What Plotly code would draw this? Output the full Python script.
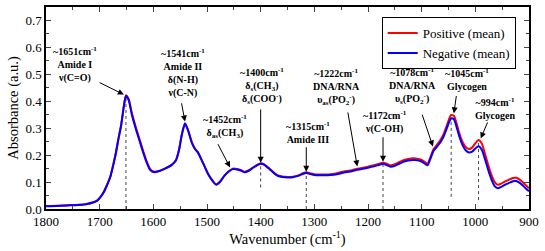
import plotly.graph_objects as go

wavenumber = [1800, 1780, 1760, 1740, 1725, 1712, 1705, 1700, 1693, 1686, 1680, 1675, 1670, 1665, 1660, 1655,
              1651, 1646, 1640, 1633, 1626, 1619, 1612, 1606, 1600, 1590, 1578, 1566, 1558, 1552, 1547, 1541,
              1535, 1528, 1522, 1517, 1512, 1505, 1498, 1490, 1483, 1476, 1468, 1460, 1452, 1444, 1436, 1430,
              1422, 1414, 1406, 1400, 1394, 1386, 1378, 1370, 1360, 1350, 1340, 1330, 1322, 1315, 1308, 1300,
              1290, 1280, 1270, 1260, 1250, 1240, 1230, 1222, 1212, 1200, 1190, 1180, 1172, 1165, 1158, 1150,
              1142, 1134, 1125, 1116, 1108, 1100, 1094, 1089, 1084, 1078, 1072, 1066, 1060, 1054, 1049, 1045,
              1040, 1035, 1030, 1024, 1018, 1012, 1006, 1000, 994, 988, 982, 976, 970, 964, 958, 952, 945, 938,
              930, 924, 918, 912, 906, 900]

negative_mean = [0.010, 0.011, 0.013, 0.015, 0.018, 0.024, 0.030, 0.040, 0.060, 0.090, 0.120, 0.160, 0.205, 0.260,
                 0.310, 0.380, 0.420, 0.405, 0.350, 0.300, 0.255, 0.210, 0.170, 0.145, 0.137, 0.140, 0.150, 0.163,
                 0.180, 0.220, 0.275, 0.317, 0.290, 0.245, 0.222, 0.210, 0.190, 0.160, 0.130, 0.105, 0.090, 0.100,
                 0.122, 0.138, 0.148, 0.147, 0.142, 0.136, 0.142, 0.153, 0.163, 0.168, 0.165, 0.152, 0.138, 0.125,
                 0.119, 0.117, 0.118, 0.123, 0.130, 0.134, 0.130, 0.126, 0.125, 0.125, 0.126, 0.128, 0.133, 0.137,
                 0.140, 0.145, 0.148, 0.153, 0.158, 0.163, 0.168, 0.163, 0.157, 0.160, 0.168, 0.175, 0.180, 0.182,
                 0.181, 0.176, 0.168, 0.162, 0.185, 0.215, 0.230, 0.245, 0.265, 0.295, 0.322, 0.336, 0.333, 0.305,
                 0.270, 0.238, 0.218, 0.210, 0.213, 0.225, 0.233, 0.220, 0.185, 0.145, 0.110, 0.085, 0.077, 0.082,
                 0.090, 0.096, 0.103, 0.104, 0.098, 0.088, 0.076, 0.066]

positive_mean = [0.011, 0.012, 0.014, 0.016, 0.019, 0.025, 0.031, 0.041, 0.061, 0.091, 0.122, 0.162, 0.207, 0.262,
                 0.312, 0.382, 0.422, 0.408, 0.356, 0.306, 0.261, 0.216, 0.175, 0.149, 0.139, 0.141, 0.151, 0.164,
                 0.181, 0.221, 0.276, 0.318, 0.291, 0.246, 0.223, 0.211, 0.191, 0.161, 0.131, 0.106, 0.091, 0.101,
                 0.123, 0.139, 0.150, 0.149, 0.144, 0.138, 0.144, 0.155, 0.165, 0.170, 0.167, 0.154, 0.140, 0.127,
                 0.121, 0.119, 0.120, 0.125, 0.132, 0.136, 0.133, 0.129, 0.128, 0.128, 0.129, 0.132, 0.137, 0.141,
                 0.144, 0.149, 0.152, 0.157, 0.162, 0.167, 0.172, 0.168, 0.162, 0.166, 0.174, 0.181, 0.186, 0.188,
                 0.187, 0.182, 0.174, 0.168, 0.191, 0.222, 0.237, 0.253, 0.274, 0.305, 0.334, 0.349, 0.346, 0.318,
                 0.282, 0.250, 0.230, 0.223, 0.228, 0.244, 0.256, 0.243, 0.205, 0.163, 0.127, 0.100, 0.090, 0.094,
                 0.102, 0.108, 0.115, 0.116, 0.110, 0.100, 0.088, 0.077]

guide_wn = [1651, 1400, 1315, 1172, 1045, 994]
guide_y0 = [0.0, 0.08, 0.0, 0.0, 0.045, 0.033]
guide_y1 = [0.42, 0.165, 0.13, 0.165, 0.335, 0.25]

label_texts = [
    "~1651cm<sup>-1</sup><br>Amide I<br>ν(C=O)",
    "~1541cm<sup>-1</sup><br>Amide II<br>δ(N-H)<br>ν(C-N)",
    "~1452cm<sup>-1</sup><br>δ<sub>as</sub>(CH<sub>3</sub>)",
    "~1400cm<sup>-1</sup><br>δ<sub>s</sub>(CH<sub>3</sub>)<br>δ<sub>s</sub>(COO<sup>-</sup>)",
    "~1315cm<sup>-1</sup><br>Amide III",
    "~1222cm<sup>-1</sup><br>DNA/RNA<br>υ<sub>as</sub>(PO<sub>2</sub><sup>-</sup>)",
    "~1172cm<sup>-1</sup><br>ν(C-OH)",
    "~1078cm<sup>-1</sup><br>DNA/RNA<br>υ<sub>s</sub>(PO<sub>2</sub><sup>-</sup>)",
    "~1045cm<sup>-1</sup><br>Glycogen",
    "~994cm<sup>-1</sup><br>Glycogen",
]
label_x = [1746, 1545, 1466, 1397, 1312, 1258, 1168, 1118, 1015, 963]
label_y = [0.537, 0.505, 0.305, 0.455, 0.283, 0.452, 0.322, 0.458, 0.48, 0.373]

arrow_tail_x = [1703, 1548, 1481, 1400, 1315, 1238, 1172, 1100, 1035, 976]
arrow_tail_y = [0.472, 0.398, 0.246, 0.375, 0.235, 0.364, 0.272, 0.356, 0.425, 0.327]
arrow_tip_x = [1655, 1541, 1457, 1400, 1315, 1220, 1172, 1079, 1040, 990]
arrow_tip_y = [0.425, 0.325, 0.154, 0.172, 0.138, 0.158, 0.175, 0.232, 0.355, 0.262]

FONT = "Liberation Serif, serif"

fig = go.Figure()
fig.add_trace(go.Scatter(x=wavenumber, y=positive_mean, mode="lines", name="Positive (mean)",
                         line=dict(color="#ff0000", width=2, shape="spline", smoothing=0.6)))
fig.add_trace(go.Scatter(x=wavenumber, y=negative_mean, mode="lines", name="Negative (mean)",
                         line=dict(color="#0000ff", width=2, shape="spline", smoothing=0.6)))

shapes = []
for wn, a0, a1 in zip(guide_wn, guide_y0, guide_y1):
    shapes.append(dict(type="line", xref="x", yref="y", x0=wn, x1=wn, y0=a0, y1=a1,
                       line=dict(color="#444444", width=1, dash="dot"), layer="below"))

annotations = []
for t, x, y in zip(label_texts, label_x, label_y):
    annotations.append(dict(x=x, y=y, xref="x", yref="y", text="<b>" + t.replace("<br>", "</b><br><b>") + "</b>",
                            showarrow=False, font=dict(family=FONT, size=10, color="black"),
                            xanchor="center", yanchor="middle", align="center"))
for tx, ty, hx, hy in zip(arrow_tail_x, arrow_tail_y, arrow_tip_x, arrow_tip_y):
    annotations.append(dict(x=hx, y=hy, ax=tx, ay=ty, xref="x", yref="y", axref="x", ayref="y",
                            text="", showarrow=True, arrowhead=2, arrowsize=1.2, arrowwidth=1,
                            arrowcolor="black"))

fig.update_layout(
    width=545, height=251,
    margin=dict(l=46, r=16, t=5, b=42),
    paper_bgcolor="white", plot_bgcolor="white",
    font=dict(family=FONT, size=13, color="black"),
    shapes=shapes, annotations=annotations,
    legend=dict(x=0.695, y=0.95, xanchor="left", yanchor="top", bgcolor="white",
                bordercolor="black", borderwidth=1, font=dict(family=FONT, size=13),
                tracegroupgap=0, itemwidth=30),
    showlegend=True,
)
fig.update_xaxes(range=[1800, 900], dtick=100, tick0=900, ticks="inside", ticklen=5, tickwidth=1,
                 minor=dict(dtick=50, ticks="inside", ticklen=3, tickwidth=1, tick0=900),
                 showline=True, linecolor="black", linewidth=1.5, mirror="ticks", showgrid=False,
                 zeroline=False, title=dict(text="Wavenumber (cm<sup>-1</sup>)", standoff=5,
                                            font=dict(family=FONT, size=14.5)),
                 tickfont=dict(family=FONT, size=13))
fig.update_yaxes(range=[0, 0.75], dtick=0.1, tick0=0, tickformat=".1f", ticks="inside", ticklen=5, tickwidth=1,
                 minor=dict(dtick=0.05, ticks="inside", ticklen=3, tickwidth=1),
                 showline=True, linecolor="black", linewidth=1.5, mirror="ticks", showgrid=False,
                 zeroline=False, title=dict(text="Absorbance (a.u.)", standoff=3,
                                            font=dict(family=FONT, size=14.5)),
                 tickfont=dict(family=FONT, size=13))

fig.write_html("out.html", config={"displayModeBar": False},
               post_script="document.body.style.margin='0';document.body.style.padding='0';")
